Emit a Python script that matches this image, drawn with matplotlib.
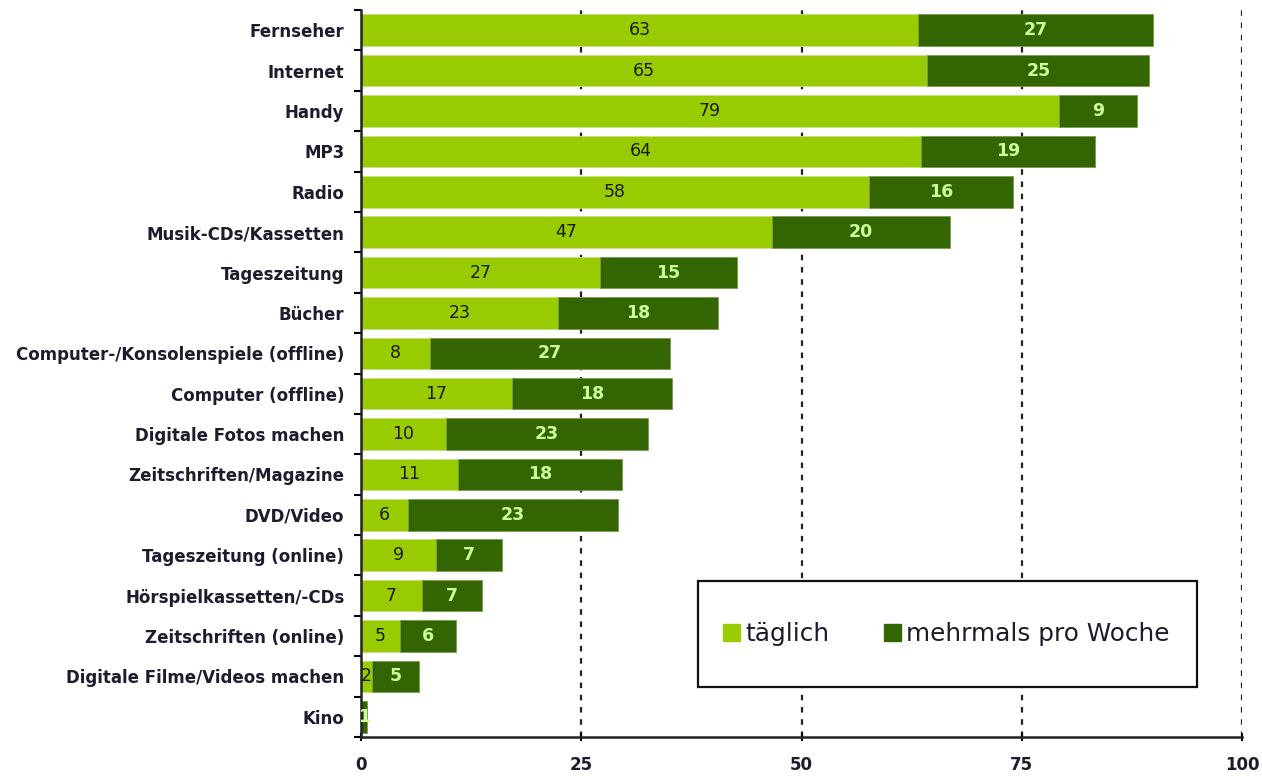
import matplotlib
matplotlib.use("Agg")
import matplotlib.pyplot as plt
import numpy as np
from matplotlib.patches import Patch, Rectangle

categories = ["Fernseher", "Internet", "Handy", "MP3", "Radio", "Musik-CDs/Kassetten",
              "Tageszeitung", "Bücher", "Computer-/Konsolenspiele (offline)",
              "Computer (offline)", "Digitale Fotos machen", "Zeitschriften/Magazine",
              "DVD/Video", "Tageszeitung (online)", "Hörspielkassetten/-CDs",
              "Zeitschriften (online)", "Digitale Filme/Videos machen", "Kino"]
# bar lengths as drawn (percent)
taeglich = [63.2, 64.3, 79.2, 63.6, 57.7, 46.6, 27.1, 22.4, 7.8, 17.1, 9.6, 11.0, 5.3, 8.5, 6.9, 4.4, 1.2, 0.0]
mehrmals = [26.7, 25.2, 8.9, 19.7, 16.3, 20.2, 15.6, 18.1, 27.3, 18.2, 23.0, 18.6, 23.9, 7.5, 6.8, 6.4, 5.4, 0.7]
# printed labels
lbl_taeglich = [63, 65, 79, 64, 58, 47, 27, 23, 8, 17, 10, 11, 6, 9, 7, 5, 2, 0]
lbl_mehrmals = [27, 25, 9, 19, 16, 20, 15, 18, 27, 18, 23, 18, 23, 7, 7, 6, 5, 1]
xticks = [0, 25, 50, 75, 100]

LIGHT = "#99CC00"
DARK = "#336600"
TXT = "#1c1c2c"

plt.rcParams['font.family'] = ['DejaVu Sans']

fig = plt.figure(figsize=(12.62, 7.78), dpi=100)
ax = fig.add_axes([361/1262, 1-737/778, 881/1262, 727/778])

y = np.arange(len(categories))
t = np.array(taeglich, dtype=float)
m = np.array(mehrmals, dtype=float)
ax.barh(y, t, height=0.78, color=LIGHT, edgecolor="#c8e080", linewidth=0.6, zorder=2)
ax.barh(y, m, left=t, height=0.78, color=DARK, edgecolor="#7a9a50", linewidth=0.6, zorder=2)

for i in range(len(categories)):
    if lbl_taeglich[i] > 0:
        ax.text(t[i] / 2, y[i], f"{lbl_taeglich[i]}", ha="center", va="center",
                fontsize=12.5, color="#1a1a1a", zorder=3)
    if lbl_mehrmals[i] > 0:
        ax.text(t[i] + m[i] / 2, y[i], f"{lbl_mehrmals[i]}", ha="center", va="center",
                fontsize=12.5, color="#ccff99", fontweight="bold", zorder=3)

ax.set_xlim(0, 100)
ax.set_ylim(len(categories) - 0.5, -0.5)

ax.set_xticks(xticks)
ax.set_xticklabels([str(v) for v in xticks], fontsize=12, fontweight="bold", color=TXT)
ax.tick_params(axis="x", direction="inout", length=6, width=1.5, pad=11)

ax.set_yticks(np.arange(-0.5, len(categories), 1.0))
ax.set_yticklabels([])
ax.set_yticks(y, minor=True)
ax.set_yticklabels(categories, minor=True, fontsize=12, fontweight="bold", color=TXT)
ax.tick_params(axis="y", which="major", direction="out", length=5, width=1.5)
ax.tick_params(axis="y", which="minor", length=0, pad=12)

for s in ["top", "right"]:
    ax.spines[s].set_visible(False)
for s in ["left", "bottom"]:
    ax.spines[s].set_linewidth(1.8)
    ax.spines[s].set_color("#222222")

for v in xticks[1:]:
    ax.axvline(v, color="#222222", linestyle=(0, (2.5, 3)), linewidth=1.6, zorder=1)

# legend box
bx, by, bw, bh = 0.3825, 0.0688, 0.5665, 0.1458
ax.add_patch(Rectangle((bx, by), bw, bh, transform=ax.transAxes, facecolor="white",
                       edgecolor="#111111", linewidth=1.6, zorder=4))
handles = [Patch(facecolor=LIGHT, edgecolor=LIGHT, label="täglich"),
           Patch(facecolor=DARK, edgecolor=DARK, label="mehrmals pro Woche")]
leg = ax.legend(handles=handles, ncol=2, loc="center left",
                bbox_to_anchor=(bx + 25/881, by + bh / 2),
                borderaxespad=0, borderpad=0,
                fontsize=17.8, frameon=False,
                handlelength=0.7, handleheight=0.7,
                handletextpad=0.2, columnspacing=2.2)
leg.set_zorder(5)
for txt in leg.get_texts():
    txt.set_color(TXT)

fig.savefig("out.png", dpi=100)
